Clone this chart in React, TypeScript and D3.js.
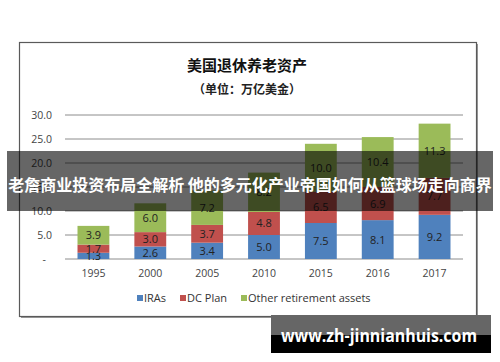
import React from "react";
import { scaleBand, scaleLinear, stack } from "d3";

const years = ["1995", "2000", "2005", "2010", "2015", "2016", "2017"];
const iras = [1.3, 2.6, 3.4, 5.0, 7.5, 8.1, 9.2];
const dcPlan = [1.7, 3.0, 3.7, 4.8, 6.5, 6.9, 7.7];
const otherAssets = [3.9, 6.0, 7.2, 8.2, 10.0, 10.4, 11.3];
const seriesNames = ["IRAs", "DC Plan", "Other retirement assets"];
const seriesColors = ["#4F81BD", "#C0504D", "#9BBB59"];
const yTicks = [0, 5, 10, 15, 20, 25, 30];

const title = "美国退休养老资产";
const subtitle = "（单位：万亿美金）";
const banner = "老詹商业投资布局全解析 他的多元化产业帝国如何从篮球场走向商界";
const watermark = "www.zh-jinnianhuis.com";

const latin = "'Open Sans', 'Noto Sans', sans-serif";
const cjk = "'Noto Sans CJK SC', sans-serif";

export default function App() {
  const rows = years.map((y, i) => ({ year: y, a: iras[i], b: dcPlan[i], c: otherAssets[i] }));
  const keys = ["a", "b", "c"];
  const layers = stack<any>().keys(keys)(rows);

  const x = scaleBand().domain(years).range([65, 463]).paddingInner(0.44).paddingOuter(0.22);
  const y = scaleLinear().domain([0, 30]).range([259, 115]);

  return (
    <svg width={500} height={362} style={{ position: "absolute", left: 0, top: 0, background: "#fff" }}>
      {/* chart frame */}
      <rect x={21} y={44} width={457} height={274} fill="#9a9a9a" />
      <rect x={19.5} y={42.5} width={457} height={274} fill="#fff" stroke="#5a5a5a" strokeWidth={1.2} />

      <text x={247} y={71} textAnchor="middle" fontFamily={cjk} fontWeight="bold" fontSize={15} fill="#111">
        {title}
      </text>
      <text x={247} y={94} textAnchor="middle" fontFamily={cjk} fontWeight="bold" fontSize={12} fill="#222">
        {subtitle}
      </text>

      {yTicks.map((t) => (
        <g key={t}>
          <line x1={65} x2={463} y1={y(t)} y2={y(t)} stroke="#8c8c8c" strokeWidth={1} />
          <text x={t === 0 ? 46 : 52} y={y(t) + 4} textAnchor="end" fontFamily={latin} fontSize={10.5} fill="#444">
            {t === 0 ? "-" : t.toFixed(1)}
          </text>
        </g>
      ))}

      {layers.map((layer, li) => (
        <g key={li}>
          {layer.map((d: any, i: number) => (
            <g key={i}>
              <rect
                x={x(years[i])}
                width={x.bandwidth()}
                y={y(d[1])}
                height={y(d[0]) - y(d[1])}
                fill={seriesColors[li]}
              />
              <text
                x={(x(years[i]) as number) + x.bandwidth() / 2}
                y={(y(d[0]) + y(d[1])) / 2 + 4}
                textAnchor="middle"
                fontFamily={latin}
                fontSize={11}
                fill="#222"
              >
                {(d[1] - d[0]).toFixed(1)}
              </text>
            </g>
          ))}
        </g>
      ))}

      {years.map((yr) => (
        <text
          key={yr}
          x={(x(yr) as number) + x.bandwidth() / 2}
          y={277}
          textAnchor="middle"
          fontFamily={latin}
          fontSize={10.5}
          fill="#444"
        >
          {yr}
        </text>
      ))}

      {/* legend */}
      {[137, 180, 241].map((lx, i) => (
        <g key={i}>
          <rect x={lx} y={295} width={6} height={6} fill={seriesColors[i]} />
          <text x={lx + 7} y={302} fontFamily={latin} fontSize={11} fill="#333">
            {seriesNames[i]}
          </text>
        </g>
      ))}

      {/* overlay banner */}
      <rect x={7} y={151} width={486} height={60} fill="rgba(0,0,0,0.6)" />
      <text x={250} y={191} textAnchor="middle" fontFamily={cjk} fontWeight="bold" fontSize={16} fill="#fff">
        {banner}
      </text>

      {/* watermark */}
      <rect x={271} y={315} width={220} height={20} fill="#666" />
      <rect x={271} y={335} width={220} height={18} fill="#000" />
      <text
        x={281}
        y={342}
        textLength={196}
        lengthAdjust="spacingAndGlyphs"
        fontFamily={latin}
        fontWeight="bold"
        fontSize={17}
        fill="#fff"
      >
        {watermark}
      </text>
    </svg>
  );
}
